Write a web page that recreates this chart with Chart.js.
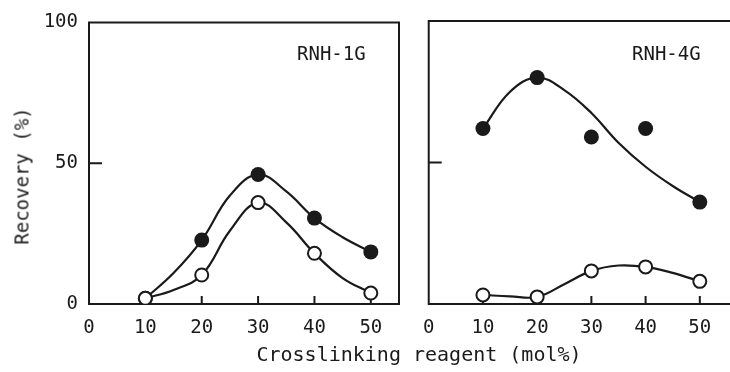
<!DOCTYPE html>
<html lang="en">
<head>
  <meta charset="UTF-8">
  <title>Recovery vs crosslinking reagent</title>
  <script src="https://cdn.jsdelivr.net/npm/chart.js"></script>
  <style>
    body {
      margin: 0;
      background: #ffffff;
      width: 730px;
      height: 372px;
      overflow: hidden;
      position: relative;
      font-family: 'DejaVu Sans Mono', monospace;
      color: #1a1a1a;
    }
    canvas {
      position: absolute;
      top: 0;
    }
    #left { left: 0; }
    #right { left: 410px; }
    .label {
      position: absolute;
      white-space: nowrap;
      line-height: 1;
    }
    #ytitle {
      font-size: 19px;
      left: 22px;
      top: 176px;
      transform: translate(-50%, -50%) rotate(-90deg);
    }
    #xtitle {
      font-size: 20px;
      left: 419px;
      top: 354px;
      transform: translate(-50%, -50%);
    }
    .panel {
      font-size: 19px;
      top: 44px;
    }
  </style>
</head>
<body>
  <canvas id="left" width="410" height="372"></canvas>
  <canvas id="right" width="320" height="372"></canvas>
  <div class="label" id="ytitle">Recovery (%)</div>
  <div class="label" id="xtitle">Crosslinking reagent (mol%)</div>
  <div class="label panel" style="left:297px">RNH-1G</div>
  <div class="label panel" style="left:632px">RNH-4G</div>

  <script>
    const xTicks = [0, 10, 20, 30, 40, 50];
    const yTicks = [0, 50, 100];
    const conc = [10, 20, 30, 40, 50];

    // measured points
    const g1Filled = [2, 22.7, 46, 30.5, 18.5];
    const g1Open = [2, 10.3, 36, 18, 3.9];
    const g4Filled = [62, 80, 59, 62, 36];
    const g4Open = [3.2, 2.5, 11.7, 13.1, 8];

    // hand-drawn smooth curves, every 5 mol%
    const curveX = [10, 15, 20, 25, 30, 35, 40, 45, 50];
    const g1FilledCurve = [2, 11, 22.7, 38.5, 46, 40, 30.5, 23.7, 18.5];
    const g1OpenCurve = [2, 5, 10.3, 26, 36, 29, 18, 9.2, 3.9];
    const g4FilledCurve = [62, 75, 80, 75.6, 67.5, 57, 48.5, 41.7, 36];
    const g4OpenCurve = [3.2, 2.7, 2.5, 7, 11.7, 13.6, 13.1, 11, 8];

    const ink = '#1a1a1a';
    const fontMono = "'DejaVu Sans Mono', monospace";

    const toPts = (xs, vals) => xs.map((c, i) => ({ x: c, y: vals[i] }));

    // box around plot area + inward ticks
    const framePlugin = {
      id: 'frame',
      beforeDatasetsDraw(chart, args, opts) {
        const { ctx, chartArea: a, scales: { x, y } } = chart;
        const xr = opts.right ? a.right : chart.width;
        ctx.save();
        ctx.strokeStyle = ink;
        ctx.lineWidth = 2;
        ctx.lineCap = 'square';
        ctx.beginPath();
        ctx.moveTo(a.left, a.top);
        ctx.lineTo(a.left, a.bottom);
        ctx.moveTo(a.left, a.top);
        ctx.lineTo(xr, a.top);
        ctx.moveTo(a.left, a.bottom);
        ctx.lineTo(xr, a.bottom);
        if (opts.right) {
          ctx.moveTo(a.right, a.top);
          ctx.lineTo(a.right, a.bottom);
        }
        const py = y.getPixelForValue(50);
        ctx.moveTo(a.left, py);
        ctx.lineTo(a.left + 12, py);
        conc.forEach(c => {
          const px = x.getPixelForValue(c);
          ctx.moveTo(px, a.bottom);
          ctx.lineTo(px, a.bottom - 7);
        });
        ctx.stroke();
        ctx.restore();
      }
    };

    function curve(vals) {
      return {
        data: toPts(curveX, vals),
        showLine: true,
        borderColor: ink,
        borderWidth: 2.2,
        pointRadius: 0,
        tension: 0.4,
        order: 2
      };
    }

    function marks(vals, filled) {
      return {
        data: toPts(conc, vals),
        showLine: false,
        pointRadius: filled ? 7.5 : 6.5,
        pointBorderWidth: filled ? 0 : 2,
        pointBackgroundColor: filled ? ink : '#ffffff',
        pointBorderColor: ink,
        order: filled ? 1 : 0
      };
    }

    function makePanel(id, datasets, o) {
      new Chart(document.getElementById(id), {
        type: 'scatter',
        data: { datasets },
        options: {
          responsive: false,
          animation: false,
          events: [],
          layout: { padding: { top: o.top, right: o.padRight, left: 0, bottom: 0 } },
          plugins: {
            legend: { display: false },
            tooltip: { enabled: false },
            frame: { right: o.rightBorder }
          },
          scales: {
            x: {
              type: 'linear',
              min: 0,
              max: o.xMax,
              grid: { display: false, drawTicks: false },
              border: { display: false },
              afterBuildTicks: s => { s.ticks = xTicks.map(v => ({ value: v })); },
              afterFit: s => { s.height = 68; },
              ticks: {
                color: ink,
                padding: 13,
                maxRotation: 0,
                autoSkip: false,
                font: { family: fontMono, size: 19 }
              }
            },
            y: {
              min: 0,
              max: 100,
              grid: { display: false, drawTicks: false },
              border: { display: false },
              afterBuildTicks: s => { s.ticks = yTicks.map(v => ({ value: v })); },
              afterFit: s => { s.width = o.yWidth; },
              ticks: {
                display: o.yLabels,
                color: ink,
                padding: 11,
                font: { family: fontMono, size: 19 }
              }
            }
          }
        },
        plugins: [framePlugin]
      });
    }

    makePanel('left', [
      marks(g1Open, false),
      marks(g1Filled, true),
      curve(g1FilledCurve),
      curve(g1OpenCurve)
    ], { top: 22, padRight: 11, xMax: 55, yWidth: 89, yLabels: true, rightBorder: true });

    makePanel('right', [
      marks(g4Open, false),
      marks(g4Filled, true),
      curve(g4FilledCurve),
      curve(g4OpenCurve)
    ], { top: 21, padRight: 0, xMax: 54, yWidth: 15, yLabels: false, rightBorder: false });
  </script>
</body>
</html>
